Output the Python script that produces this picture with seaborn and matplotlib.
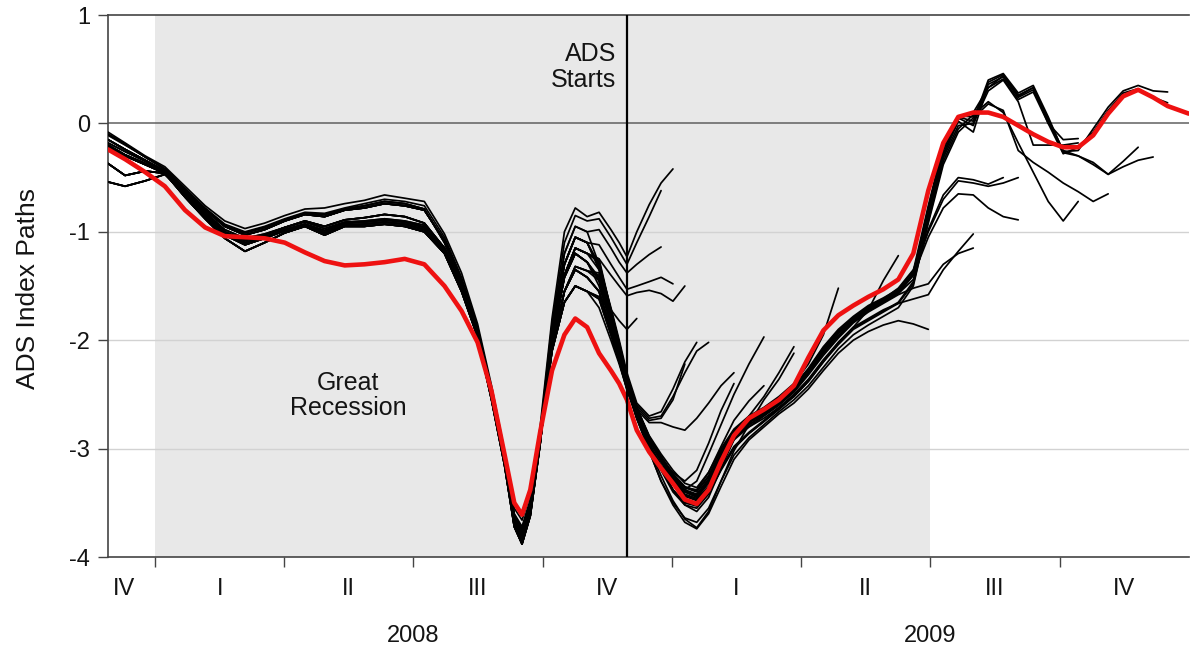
import numpy as np
import pandas as pd
import matplotlib
matplotlib.use("Agg")
import matplotlib.pyplot as plt
import matplotlib.transforms as mtransforms
import seaborn as sns

# ------------------------------
# 1. Data: ADS index paths (decimal-year dates)
# ------------------------------
dates = [2007.909, 2007.942, 2007.981, 2008.019, 2008.058, 2008.097, 2008.135, 2008.174,
         2008.212, 2008.251, 2008.290, 2008.328, 2008.367, 2008.405, 2008.444, 2008.483,
         2008.521, 2008.560, 2008.593, 2008.624, 2008.651, 2008.676, 2008.695, 2008.710,
         2008.726, 2008.745, 2008.768, 2008.792, 2008.813, 2008.836, 2008.859, 2008.882,
         2008.898, 2008.913, 2008.932, 2008.956, 2008.979, 2009.002, 2009.025, 2009.048,
         2009.071, 2009.095, 2009.120, 2009.149, 2009.178, 2009.207, 2009.236, 2009.264,
         2009.293, 2009.322, 2009.351, 2009.380, 2009.409, 2009.438, 2009.467, 2009.496,
         2009.525, 2009.554, 2009.583, 2009.612, 2009.641, 2009.670, 2009.699, 2009.728,
         2009.757, 2009.786, 2009.815, 2009.844, 2009.873, 2009.902, 2009.931, 2009.959,
         2010.000]

# final (latest) vintage, drawn in red
final_path = [-0.24, -0.33, -0.45, -0.58, -0.80, -0.96, -1.04, -1.05, -1.06, -1.10,
              -1.19, -1.27, -1.31, -1.30, -1.28, -1.25, -1.30, -1.50, -1.73, -2.02,
              -2.47, -3.05, -3.50, -3.61, -3.38, -2.85, -2.28, -1.95, -1.80, -1.88,
              -2.12, -2.28, -2.40, -2.55, -2.83, -3.03, -3.18, -3.32, -3.47, -3.51,
              -3.38, -3.12, -2.88, -2.72, -2.64, -2.55, -2.42, -2.16, -1.91, -1.77,
              -1.68, -1.60, -1.53, -1.44, -1.20, -0.62, -0.18, 0.06, 0.10, 0.10,
              0.06, -0.02, -0.10, -0.17, -0.22, -0.22, -0.11, 0.09, 0.25, 0.31,
              0.24, 0.16, 0.09]

# histories shared by real-time vintages (Dec 2007 - mid Nov 2008)
hist_a = [-0.08, -0.18, -0.30, -0.40, -0.58, -0.76, -0.90, -0.97, -0.92, -0.85, -0.79, -0.78, -0.74, -0.71, -0.66,
          -0.69, -0.72, -1.02, -1.38, -1.85, -2.42, -3.02, -3.55, -3.66, -3.42, -2.80, -1.80, -1.00, -0.78, -0.86]
hist_b = [-0.11, -0.20, -0.31, -0.42, -0.60, -0.78, -0.93, -1.00, -0.95, -0.88, -0.82, -0.83, -0.78, -0.74, -0.70,
          -0.72, -0.76, -1.05, -1.42, -1.88, -2.45, -3.05, -3.60, -3.72, -3.47, -2.84, -1.85, -1.10, -0.85, -0.90]
hist_c = [-0.18, -0.26, -0.35, -0.44, -0.63, -0.82, -0.98, -1.06, -1.02, -0.96, -0.91, -0.97, -0.91, -0.90, -0.88,
          -0.90, -0.94, -1.15, -1.50, -1.93, -2.50, -3.10, -3.65, -3.78, -3.52, -2.88, -1.90, -1.20, -0.95, -1.00]
hist_d = [-0.22, -0.30, -0.38, -0.46, -0.66, -0.86, -1.03, -1.12, -1.06, -0.99, -0.94, -1.01, -0.94, -0.93, -0.91,
          -0.93, -0.98, -1.18, -1.53, -1.95, -2.52, -3.12, -3.68, -3.84, -3.57, -2.92, -1.95, -1.30, -1.05, -1.10]
hist_e = [-0.37, -0.48, -0.44, -0.46, -0.68, -0.88, -1.06, -1.18, -1.10, -1.01, -0.95, -1.03, -0.95, -0.95, -0.93,
          -0.95, -1.00, -1.20, -1.55, -1.97, -2.55, -3.15, -3.72, -3.88, -3.62, -2.96, -2.00, -1.42, -1.20, -1.28]
hist_f = [-0.54, -0.58, -0.53, -0.47, -0.65, -0.84, -1.00, -1.08, -1.03, -0.96, -0.90, -0.95, -0.89, -0.87, -0.84,
          -0.86, -0.92, -1.15, -1.50, -1.95, -2.52, -3.12, -3.66, -3.80, -3.55, -2.92, -2.05, -1.55, -1.35, -1.42]
hist_g = [-0.15, -0.24, -0.34, -0.44, -0.62, -0.80, -0.95, -1.03, -0.98, -0.90, -0.84, -0.86, -0.80, -0.78, -0.74,
          -0.76, -0.80, -1.08, -1.45, -1.90, -2.48, -3.08, -3.62, -3.75, -3.50, -2.90, -2.10, -1.65, -1.50, -1.55]
hist_h = [-0.10, -0.19, -0.31, -0.42, -0.61, -0.79, -0.94, -1.01, -0.96, -0.89, -0.83, -0.84, -0.79, -0.76, -0.72,
          -0.74, -0.79, -1.10, -1.47, -1.92, -2.50, -3.10, -3.64, -3.78, -3.53, -2.93, -2.08, -1.55, -1.32, -1.36]
hist_i = [-0.20, -0.29, -0.37, -0.45, -0.65, -0.85, -1.02, -1.10, -1.05, -0.98, -0.93, -0.99, -0.92, -0.91, -0.89,
          -0.91, -0.96, -1.17, -1.52, -1.96, -2.53, -3.13, -3.70, -3.86, -3.60, -2.95, -2.02, -1.40, -1.15, -1.20]

# rest of each vintage, from late Nov 2008 until its release
tail_01 = [-0.82, -0.98, -1.10, -1.23, -1.00, -0.75, -0.55, -0.42]
tail_02 = [-0.88, -1.05, -1.18, -1.30, -1.10, -0.86, -0.62]
tail_03 = [-0.98, -1.15, -1.28, -1.38, -1.30, -1.21, -1.14]
tail_04 = [-1.12, -1.30, -1.42, -1.53, -1.50, -1.46, -1.42, -1.48]
tail_05 = [-1.25, -1.40, -1.50, -1.59, -1.56, -1.54, -1.57, -1.64, -1.50]
tail_06 = [-1.60, -1.72, -1.82, -1.90, -1.80]
tail_07 = [-1.30, -1.70, -2.00, -2.30, -2.58, -2.70, -2.66, -2.45, -2.20, -2.02]
tail_08 = [-1.35, -1.75, -2.05, -2.35, -2.60, -2.72, -2.70, -2.52, -2.30, -2.10, -2.02]
tail_09 = [-1.50, -1.85, -2.10, -2.38, -2.62, -2.74, -2.72, -2.55, -2.22]
tail_10 = [-1.55, -1.90, -2.15, -2.42, -2.64, -2.76, -2.76, -2.80, -2.83, -2.72, -2.58, -2.42, -2.30]
tail_11 = [-1.70, -2.00, -2.22, -2.45, -2.70, -2.92, -3.10, -3.22, -3.30, -3.20, -2.95, -2.65, -2.40]
tail_12 = [-1.45, -1.85, -2.12, -2.40, -2.68, -2.95, -3.15, -3.30, -3.38, -3.30, -3.05, -2.78, -2.50,
           -2.22, -1.97]
tail_13 = [-1.55, -1.90, -2.15, -2.43, -2.72, -3.00, -3.25, -3.48, -3.65, -3.73, -3.58, -3.30, -3.02,
           -2.78, -2.55, -2.36, -2.12]
tail_14 = [-1.45, -1.80, -2.08, -2.38, -2.65, -2.90, -3.08, -3.25, -3.36, -3.38, -3.22, -2.98, -2.74,
           -2.56, -2.42]
tail_15 = [-1.35, -1.78, -2.06, -2.36, -2.66, -2.96, -3.18, -3.38, -3.52, -3.58, -3.45, -3.18, -2.92,
           -2.70, -2.52, -2.30, -2.06]
tail_16 = [-1.32, -1.75, -2.05, -2.34, -2.62, -2.88, -3.05, -3.20, -3.32, -3.36, -3.22, -3.00, -2.82,
           -2.70, -2.62, -2.52, -2.40, -2.22, -1.95, -1.52]
tail_17 = [-1.45, -1.82, -2.10, -2.38, -2.66, -2.92, -3.12, -3.28, -3.40, -3.45, -3.32, -3.10, -2.90,
           -2.80, -2.72, -2.62, -2.52, -2.38, -2.20, -2.02, -1.88, -1.72, -1.45, -1.22]
tail_18 = [-1.55, -1.90, -2.15, -2.42, -2.72, -3.02, -3.30, -3.52, -3.68, -3.74, -3.60, -3.35, -3.10,
           -2.92, -2.80, -2.68, -2.58, -2.45, -2.28, -2.12, -2.00, -1.92, -1.86, -1.82, -1.85, -1.90]
tail_19 = [-1.62, -1.95, -2.20, -2.45, -2.70, -2.95, -3.18, -3.38, -3.50, -3.52, -3.40, -3.18, -2.98,
           -2.85, -2.74, -2.62, -2.50, -2.36, -2.18, -2.02, -1.88, -1.80, -1.72, -1.66, -1.62, -1.58,
           -1.35, -1.18, -1.02]
tail_20 = [-1.25, -1.72, -2.02, -2.33, -2.62, -2.90, -3.10, -3.28, -3.42, -3.46, -3.35, -3.12, -2.92,
           -2.80, -2.70, -2.60, -2.48, -2.32, -2.14, -1.98, -1.84, -1.74, -1.66, -1.58, -1.52, -1.48,
           -1.30, -1.20, -1.15]
tail_21 = [-1.42, -1.80, -2.08, -2.36, -2.64, -2.90, -3.10, -3.26, -3.38, -3.42, -3.28, -3.05, -2.85,
           -2.74, -2.66, -2.56, -2.44, -2.28, -2.08, -1.92, -1.80, -1.70, -1.62, -1.52, -1.35, -1.00,
           -0.70, -0.53, -0.55, -0.58, -0.55, -0.50]
tail_22 = [-1.30, -1.72, -2.03, -2.34, -2.63, -2.90, -3.08, -3.24, -3.36, -3.40, -3.26, -3.03, -2.84,
           -2.73, -2.65, -2.55, -2.43, -2.27, -2.07, -1.91, -1.79, -1.69, -1.62, -1.54, -1.40, -1.05,
           -0.78, -0.65, -0.66, -0.78, -0.86, -0.89]
tail_23 = [-1.28, -1.74, -2.04, -2.35, -2.64, -2.92, -3.12, -3.30, -3.44, -3.48, -3.36, -3.12, -2.90,
           -2.78, -2.69, -2.59, -2.47, -2.31, -2.12, -1.96, -1.83, -1.73, -1.65, -1.57, -1.44, -0.98,
           -0.66, -0.50, -0.52, -0.56, -0.50]
tail_24 = [-1.55, -1.90, -2.15, -2.42, -2.72, -3.02, -3.30, -3.50, -3.64, -3.68, -3.55, -3.30, -3.06,
           -2.90, -2.78, -2.66, -2.55, -2.42, -2.25, -2.08, -1.95, -1.86, -1.78, -1.70, -1.50, -0.90,
           -0.35, -0.05, 0.08, 0.20, 0.10, -0.18, -0.45, -0.72, -0.90, -0.72]
tail_25 = [-1.62, -1.95, -2.20, -2.46, -2.72, -2.98, -3.20, -3.40, -3.52, -3.55, -3.42, -3.20, -3.00,
           -2.86, -2.75, -2.64, -2.52, -2.38, -2.20, -2.04, -1.90, -1.82, -1.74, -1.66, -1.48, -0.92,
           -0.38, -0.08, 0.05, 0.18, 0.12, -0.25, -0.36, -0.45, -0.55, -0.63, -0.72, -0.65]
tail_26 = [-1.40, -1.78, -2.06, -2.36, -2.64, -2.90, -3.10, -3.28, -3.40, -3.44, -3.30, -3.08, -2.88,
           -2.76, -2.67, -2.57, -2.46, -2.30, -2.10, -1.94, -1.82, -1.72, -1.64, -1.56, -1.40, -0.85,
           -0.30, 0.02, -0.08, 0.36, 0.43, 0.24, 0.31, 0.02, -0.27, -0.30, -0.38, -0.47, -0.35, -0.22]
tail_27 = [-1.44, -1.82, -2.09, -2.37, -2.65, -2.91, -3.11, -3.27, -3.39, -3.43, -3.30, -3.07, -2.87,
           -2.76, -2.68, -2.58, -2.46, -2.30, -2.10, -1.93, -1.81, -1.71, -1.63, -1.55, -1.38, -0.80,
           -0.25, 0.05, -0.02, 0.38, 0.45, 0.26, 0.33, 0.04, -0.25, -0.30, -0.36, -0.47, -0.40, -0.34,
           -0.31]
tail_28 = [-1.27, -1.73, -2.03, -2.34, -2.63, -2.91, -3.11, -3.29, -3.43, -3.47, -3.35, -3.11, -2.90,
           -2.78, -2.69, -2.59, -2.47, -2.31, -2.12, -1.96, -1.83, -1.73, -1.65, -1.57, -1.40, -0.78,
           -0.22, 0.06, 0.02, 0.40, 0.46, 0.28, 0.35, 0.06, -0.26, -0.25, -0.05, 0.15, 0.30, 0.35,
           0.30, 0.29]
tail_29 = [-1.31, -1.73, -2.04, -2.35, -2.63, -2.89, -3.07, -3.23, -3.35, -3.39, -3.25, -3.02, -2.83,
           -2.72, -2.64, -2.54, -2.42, -2.26, -2.06, -1.90, -1.78, -1.68, -1.61, -1.53, -1.36, -0.76,
           -0.20, 0.07, 0.06, 0.33, 0.41, 0.22, 0.29, 0.00, -0.28, -0.22, -0.08, 0.12, 0.28, 0.32,
           0.24, 0.19]
tail_30 = [-1.60, -1.94, -2.19, -2.44, -2.70, -2.96, -3.18, -3.38, -3.50, -3.53, -3.41, -3.19, -2.99,
           -2.86, -2.75, -2.63, -2.51, -2.37, -2.19, -2.03, -1.89, -1.81, -1.73, -1.65, -1.46, -0.88,
           -0.32, -0.02, 0.00, 0.30, 0.40, 0.20, -0.20, -0.20, -0.20, -0.18]
tail_31 = [-1.38, -1.77, -2.05, -2.35, -2.63, -2.89, -3.09, -3.27, -3.39, -3.43, -3.29, -3.07, -2.87,
           -2.75, -2.66, -2.56, -2.45, -2.29, -2.09, -1.93, -1.81, -1.71, -1.63, -1.55, -1.38, -0.82,
           -0.28, 0.04, 0.10, 0.33, 0.44, 0.25, 0.33, 0.00, -0.15, -0.14]

vintages = [
    (hist_a, tail_01), (hist_b, tail_02), (hist_c, tail_03), (hist_d, tail_04),
    (hist_i, tail_05), (hist_g, tail_06), (hist_c, tail_07), (hist_d, tail_08),
    (hist_e, tail_09), (hist_f, tail_10), (hist_g, tail_11), (hist_e, tail_12),
    (hist_f, tail_13), (hist_h, tail_14), (hist_i, tail_15), (hist_d, tail_16),
    (hist_e, tail_17), (hist_f, tail_18), (hist_g, tail_19), (hist_i, tail_20),
    (hist_e, tail_21), (hist_d, tail_22), (hist_i, tail_23), (hist_f, tail_24),
    (hist_g, tail_25), (hist_h, tail_26), (hist_e, tail_27), (hist_i, tail_28),
    (hist_d, tail_29), (hist_g, tail_30), (hist_h, tail_31),
]

recession = (2008.0, 2009.5)
ads_start = 2008.913
quarter_edges = [2008.0, 2008.25, 2008.5, 2008.75, 2009.0, 2009.25, 2009.5, 2009.75]
quarter_mids = [2007.94, 2008.125, 2008.375, 2008.625, 2008.875, 2009.125, 2009.375, 2009.625, 2009.875]
quarter_names = ["IV", "I", "II", "III", "IV", "I", "II", "III", "IV"]
years = [(2008.5, "2008"), (2009.5, "2009")]

rows = []
for k, (hist, tail) in enumerate(vintages):
    vals = hist + tail
    for t, v in zip(dates[:len(vals)], vals):
        rows.append({"vintage": k, "date": t, "ads": v})
paths = pd.DataFrame(rows)
final = pd.DataFrame({"date": dates, "ads": final_path})

# ------------------------------
# 2. Plot
# ------------------------------
sns.set_theme(style="white")
ink = "#141414"
plt.rcParams["font.family"] = ["Liberation Sans", "DejaVu Sans"]
plt.rcParams["text.color"] = ink
plt.rcParams["xtick.color"] = ink
plt.rcParams["ytick.color"] = ink
fs = 17
edge = "#444444"

fig = plt.figure(figsize=(11.9, 6.51), dpi=100)
ax = fig.add_axes([108 / 1190, 1 - 557 / 651, 1 - 108 / 1190 - 0.001, 542 / 651])

ax.axvspan(*recession, color="#e8e8e8", lw=0, zorder=0)
for y in [-1, -2, -3]:
    ax.axhline(y, color="#d2d2d2", lw=1.0, zorder=1)
ax.axhline(0, color="#606060", lw=1.1, zorder=1)

sns.lineplot(data=paths, x="date", y="ads", units="vintage", estimator=None,
             color="black", lw=1.25, sort=False, ax=ax, zorder=3)
sns.lineplot(data=final, x="date", y="ads", color="#ee1111", lw=3.3,
             sort=False, ax=ax, zorder=4)
ax.axvline(ads_start, color="black", lw=1.6, zorder=5)

ax.set_xlim(2007.909, 2010.0)
ax.set_ylim(-4, 1)
ax.set_xlabel("")
ax.set_ylabel("")

ax.set_yticks([-4, -3, -2, -1, 0, 1])
ax.set_yticklabels(["-4", "-3", "-2", "-1", "0", "1"])
ax.tick_params(axis="y", direction="out", length=7, width=1, color=edge,
               labelsize=fs, labelcolor=ink, pad=6, left=True)

ax.set_xticks(quarter_edges)
ax.set_xticklabels([])
ax.set_xticks(quarter_mids, minor=True)
ax.set_xticklabels(quarter_names, minor=True)
ax.tick_params(axis="x", which="major", direction="out", length=7, width=1,
               color=edge, bottom=True)
ax.tick_params(axis="x", which="minor", length=0, labelsize=fs, labelcolor=ink,
               pad=15, bottom=True)

trans = mtransforms.blended_transform_factory(ax.transData, ax.transAxes)
for x, lab in years:
    ax.text(x, -0.145, lab, transform=trans, ha="center", va="center", fontsize=fs)

ax.text(2008.892, 0.52, "ADS\nStarts", ha="right", va="center",
        multialignment="right", fontsize=18, linespacing=1.1, zorder=6)
ax.text(2008.373, -2.51, "Great\nRecession", ha="center", va="center",
        multialignment="center", fontsize=18, linespacing=1.1, zorder=6)

fig.text(28 / 1190, 1 - 288 / 651, "ADS Index Paths", rotation=90,
         ha="center", va="center", fontsize=19)

ax.spines["right"].set_visible(False)
for s in ["left", "top", "bottom"]:
    ax.spines[s].set_color(edge)
    ax.spines[s].set_linewidth(1.2)
ax.grid(False)

fig.savefig("out.png", dpi=100, facecolor="white")
